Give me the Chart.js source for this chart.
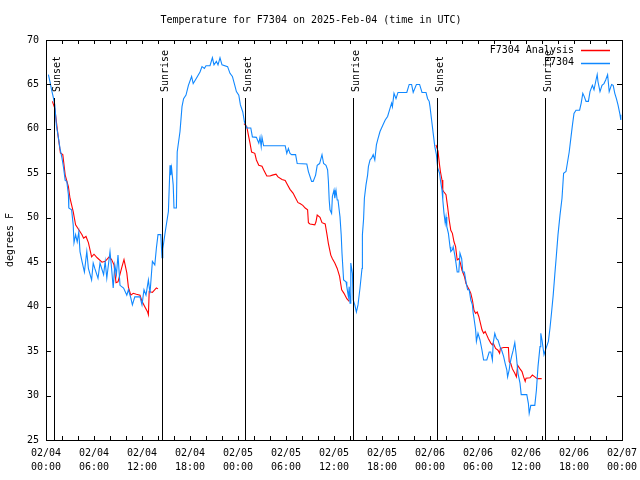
<!DOCTYPE html>
<html><head><meta charset="utf-8">
<script src="https://cdn.jsdelivr.net/npm/chart.js@4.4.1/dist/chart.umd.min.js"></script>
<style>html,body{margin:0;padding:0;background:#fff}#wrap{width:640px;height:480px}</style>
</head><body><div id="wrap"><canvas id="c" width="640" height="480"></canvas></div>
<script>
const titleText = 'Temperature for F7304 on 2025-Feb-04 (time in UTC)';
const yAxisTitle = 'degrees F';
const seriesNames = ['F7304 Analysis', 'F7304'];
const tickDates = ['02/04','02/04','02/04','02/04','02/05','02/05','02/05','02/05','02/06','02/06','02/06','02/06','02/07'];
const tickTimes = ['00:00','06:00','12:00','18:00','00:00','06:00','12:00','18:00','00:00','06:00','12:00','18:00','00:00'];
const sunEventHours = [1.0, 14.5, 24.9, 38.4, 48.9, 62.4];
const sunEventLabels = ['Sunset','Sunrise','Sunset','Sunrise','Sunset','Sunrise'];

// station observations: [hours since 02/04 00:00 UTC, degrees F]
const stationReadings = [
[0.3,66.1],[0.5,65.3],[0.7,64.4],[0.9,63.6],[1.1,62.7],[1.3,60.4],[1.5,59.3],[1.75,57.8],[2.0,56.7],[2.2,55.6],
[2.4,54.2],[2.6,54.1],[2.8,52.6],[2.85,51.1],[3.2,50.9],[3.4,49.2],[3.5,47.2],[3.7,48.1],[3.9,47.3],[4.1,48.4],
[4.25,46.2],[4.5,45.1],[4.8,43.9],[5.1,46.2],[5.3,44.3],[5.7,43.0],[5.9,44.9],[6.1,44.3],[6.5,43.2],[6.75,44.9],
[7.2,43.6],[7.4,45.1],[7.6,43.2],[8.0,46.2],[8.2,44.3],[8.4,42.1],[8.6,44.7],[8.8,43.6],[9.0,45.8],[9.25,42.4],
[9.7,42.1],[10.1,41.3],[10.3,41.9],[10.6,41.0],[10.8,40.2],[11.1,41.1],[11.75,41.1],[12.0,40.2],[12.25,41.9],[12.5,41.3],
[12.8,43.0],[13.0,41.5],[13.3,45.1],[13.6,44.7],[13.8,46.6],[14.0,48.1],[14.35,48.1],[14.5,45.5],[14.6,46.5],[14.9,48.4],
[15.3,50.7],[15.5,55.9],[15.6,54.8],[15.7,55.6],[15.9,53.7],[16.0,51.1],[16.3,51.1],[16.4,57.4],[16.75,59.7],[17.0,62.5],
[17.2,63.4],[17.5,63.8],[17.8,64.9],[18.2,65.9],[18.4,65.1],[18.8,65.7],[19.25,66.4],[19.5,67.0],[19.8,66.8],[20.0,67.1],
[20.5,67.1],[20.8,68.0],[21.0,67.2],[21.3,67.6],[21.5,67.2],[21.75,68.0],[22.0,67.2],[22.7,67.0],[23.0,66.25],[23.3,65.9],
[23.6,64.9],[23.8,64.2],[24.1,63.8],[24.3,62.7],[24.6,61.9],[24.8,60.8],[25.1,60.1],[25.6,60.1],[25.8,59.1],[26.3,59.05],
[26.6,58.4],[26.75,59.05],[26.9,58.0],[27.0,59.05],[27.2,58.1],[29.9,58.1],[30.1,57.25],[30.3,57.8],[30.5,57.25],[30.7,57.1],
[31.2,57.1],[31.4,56.1],[32.6,56.05],[32.8,55.2],[33.2,54.1],[33.4,54.1],[33.7,54.8],[33.9,55.9],[34.2,56.1],[34.5,57.1],
[34.7,56.1],[35.0,55.9],[35.2,55.4],[35.3,54.1],[35.4,52.0],[35.5,50.9],[35.7,50.5],[35.8,52.4],[36.0,53.1],[36.1,52.2],
[36.25,53.1],[36.4,52.0],[36.5,52.0],[36.75,50.1],[36.9,48.1],[37.0,46.0],[37.2,43.0],[37.5,42.8],[37.6,42.25],[37.8,41.1],
[37.9,42.25],[38.0,40.4],[38.1,44.9],[38.3,43.75],[38.4,40.75],[38.6,40.2],[38.8,39.4],[39.0,40.2],[39.25,42.1],[39.5,44.3],
[39.55,48.1],[39.7,49.9],[39.8,52.2],[40.0,53.7],[40.2,54.8],[40.3,55.75],[40.5,56.5],[40.7,56.7],[40.9,57.1],[41.1,56.5],
[41.3,58.2],[41.5,58.9],[41.75,59.7],[42.1,60.4],[42.4,61.0],[42.7,61.4],[43.0,62.3],[43.2,62.9],[43.3,62.5],[43.5,64.0],
[43.75,63.4],[44.0,64.1],[45.1,64.1],[45.4,65.0],[45.7,65.0],[45.9,64.1],[46.3,65.0],[46.7,65.0],[47.0,64.1],[47.5,64.1],
[47.7,63.4],[47.9,63.1],[48.0,62.5],[48.2,61.0],[48.4,59.5],[48.6,58.0],[48.8,57.1],[48.96,55.6],[49.2,55.0],[49.3,54.25],
[49.5,53.1],[49.6,52.0],[49.75,50.5],[49.9,49.4],[50.0,50.1],[50.1,49.0],[50.3,48.25],[50.4,47.5],[50.5,46.75],[50.6,46.2],
[50.8,46.4],[50.9,46.75],[51.1,45.8],[51.25,44.9],[51.4,43.9],[51.6,43.9],[51.75,46.0],[51.96,45.4],[52.1,43.9],[52.3,43.9],
[52.5,42.8],[52.7,41.9],[52.9,41.9],[53.1,40.75],[53.3,40.2],[53.4,39.25],[53.5,38.7],[53.7,37.4],[53.8,36.1],[54.0,37.0],
[54.25,36.25],[54.5,35.1],[54.7,34.0],[55.1,34.0],[55.4,34.9],[55.6,34.9],[55.8,34.0],[55.9,35.9],[56.1,37.0],[56.3,36.4],
[56.5,36.25],[56.75,35.5],[56.96,35.1],[57.2,34.4],[57.4,33.6],[57.6,32.9],[57.7,32.1],[57.9,32.9],[58.0,33.6],[58.2,34.4],
[58.4,35.1],[58.6,35.95],[58.8,34.4],[59.0,32.5],[59.25,31.4],[59.4,30.1],[60.1,30.1],[60.3,29.1],[60.4,28.0],[60.6,28.9],
[61.1,28.9],[61.3,30.6],[61.5,33.25],[61.75,35.5],[61.85,37.0],[62.0,36.25],[62.25,34.6],[62.5,35.3],[62.8,36.1],[63.0,37.6],
[63.2,39.4],[63.4,41.3],[63.6,43.6],[63.8,45.8],[64.0,48.1],[64.25,50.3],[64.5,52.2],[64.7,55.0],[65.0,55.2],[65.2,56.3],
[65.4,57.4],[65.6,58.9],[65.8,60.4],[66.0,61.75],[66.25,62.1],[66.7,62.1],[66.9,62.9],[67.1,64.0],[67.3,63.6],[67.5,63.1],
[67.8,63.1],[68.0,64.2],[68.3,64.9],[68.5,64.4],[68.75,65.5],[68.9,66.1],[69.0,65.3],[69.25,64.2],[69.5,64.9],[69.75,65.1],
[69.96,65.5],[70.2,66.1],[70.4,64.2],[70.7,65.0],[70.9,64.9],[71.1,64.0],[71.3,63.4],[71.5,62.7],[71.75,61.6],[71.85,61.0]
];

// analysis values (night-time only; null = gap)
const analysisReadings = [
[0.8,63.1],[1.1,62.3],[1.5,59.3],[1.8,57.3],[2.1,57.1],[2.4,54.8],[2.8,53.5],[3.0,52.2],[3.4,50.7],[3.7,49.2],
[4.0,48.8],[4.5,48.1],[4.7,47.7],[5.0,47.9],[5.3,47.2],[5.7,45.6],[6.0,45.9],[6.4,45.5],[7.0,45.0],[7.4,45.1],
[7.9,45.6],[8.2,45.3],[8.5,44.7],[8.75,42.7],[9.0,42.8],[9.5,44.5],[9.75,45.3],[10.1,43.8],[10.3,42.2],[10.6,41.3],
[10.9,41.5],[11.3,41.4],[11.75,41.3],[12.0,40.6],[12.4,39.9],[12.7,39.4],[12.8,39.1],[12.9,41.7],[13.3,41.6],[13.8,42.1],
[14.0,42.0],[14.1,null],
[24.75,60.6],[25.1,60.25],[25.3,59.3],[25.5,58.4],[25.7,57.4],[26.1,57.25],[26.3,56.5],[26.6,55.9],[27.0,55.8],[27.2,55.4],
[27.6,54.7],[28.0,54.7],[28.3,54.8],[28.75,54.9],[29.0,54.6],[29.5,54.3],[29.9,54.2],[30.2,53.7],[30.5,53.2],[30.9,52.75],
[31.1,52.4],[31.5,51.7],[31.75,51.6],[32.1,51.4],[32.4,51.1],[32.7,50.9],[32.8,49.45],[33.0,49.3],[33.6,49.2],[33.75,49.55],
[33.9,50.3],[34.25,50.05],[34.5,49.45],[34.9,49.3],[35.1,48.25],[35.3,47.1],[35.6,45.8],[35.8,45.4],[36.1,44.9],[36.4,44.3],
[36.7,43.4],[36.8,42.8],[36.96,41.9],[37.25,41.5],[37.6,40.9],[37.9,40.6],[38.0,null],
[48.75,58.2],[49.0,57.5],[49.2,55.9],[49.3,55.2],[49.5,54.25],[49.6,53.1],[49.75,52.9],[50.0,52.6],[50.2,51.25],[50.4,49.75],
[50.6,48.6],[50.8,48.25],[51.0,47.3],[51.2,46.75],[51.4,45.25],[51.6,45.4],[51.8,44.9],[52.0,44.1],[52.3,43.4],[52.5,42.6],
[52.7,42.25],[52.9,41.9],[53.1,41.5],[53.3,40.75],[53.5,39.6],[53.7,39.25],[53.9,39.4],[54.1,38.9],[54.5,37.4],[54.7,37.0],
[54.9,37.2],[55.1,36.8],[55.3,36.4],[55.6,35.9],[55.8,35.7],[55.9,35.9],[56.2,35.3],[56.5,35.1],[56.7,34.75],[56.8,35.3],
[57.2,35.4],[57.8,35.4],[57.9,33.8],[58.1,33.6],[58.3,33.0],[58.6,32.5],[58.8,32.1],[58.96,33.4],[59.25,33.0],[59.5,32.7],
[59.7,32.1],[59.9,31.6],[60.0,31.95],[60.5,32.0],[60.8,32.3],[61.1,32.1],[61.4,31.9],[61.96,31.9]
];

const FONT = '"DejaVu Sans Mono", "Liberation Mono", monospace';
const RED = 'rgb(255,0,0)';
const BLUE = 'rgb(16,136,255)';

const toXY = arr => arr.map(p => ({x: p[0], y: p[1]}));

const framePlugin = {
  id: 'frame',
  afterDatasetsDraw(chart) {
    const {ctx, chartArea: a, scales: {x, y}} = chart;
    ctx.save();
    // sunrise / sunset markers
    ctx.strokeStyle = '#000'; ctx.lineWidth = 1;
    ctx.fillStyle = '#000';
    ctx.font = '10px ' + FONT;
    sunEventHours.forEach((h, i) => {
      const px = Math.round(x.getPixelForValue(h)) + 0.5;
      ctx.beginPath(); ctx.moveTo(px, a.bottom); ctx.lineTo(px, a.top + 58); ctx.stroke();
      ctx.save();
      ctx.translate(px + 2.5, a.top + 52);
      ctx.rotate(-Math.PI / 2);
      ctx.textAlign = 'left'; ctx.textBaseline = 'middle';
      ctx.fillText(sunEventLabels[i], 0, 0);
      ctx.restore();
    });
    // border
    ctx.strokeRect(a.left + 0.5, a.top + 0.5, a.right - a.left, a.bottom - a.top);
    // inward ticks
    ctx.beginPath();
    for (let h = x.min; h <= x.max; h += 2) {
      const px = Math.round(x.getPixelForValue(h)) + 0.5;
      ctx.moveTo(px, a.bottom); ctx.lineTo(px, a.bottom - 4);
      ctx.moveTo(px, a.top); ctx.lineTo(px, a.top + 4);
    }
    for (let v = y.min; v <= y.max; v += 5) {
      const py = Math.round(y.getPixelForValue(v)) + 0.5;
      ctx.moveTo(a.left, py); ctx.lineTo(a.left + 5, py);
      ctx.moveTo(a.right, py); ctx.lineTo(a.right - 5, py);
    }
    ctx.stroke();
    // legend (gnuplot style: text then sample line)
    const rows = [[seriesNames[0], RED], [seriesNames[1], BLUE]];
    rows.forEach((r, i) => {
      const ty = a.top + 10 + i * 12.5;
      ctx.fillStyle = '#000';
      ctx.textAlign = 'right'; ctx.textBaseline = 'middle';
      ctx.fillText(r[0], a.right - 48, ty);
      ctx.strokeStyle = r[1]; ctx.lineWidth = 1.5;
      ctx.beginPath(); ctx.moveTo(a.right - 41, Math.round(ty) + 0.5); ctx.lineTo(a.right - 12, Math.round(ty) + 0.5); ctx.stroke();
    });
    ctx.restore();
  }
};

new Chart(document.getElementById('c'), {
  type: 'line',
  data: {
    datasets: [
      { label: seriesNames[1], data: toXY(stationReadings), borderColor: BLUE, borderWidth: 1.1,
        pointRadius: 0, tension: 0, fill: false, order: 0 },
      { label: seriesNames[0], data: toXY(analysisReadings), borderColor: RED, borderWidth: 1.1,
        pointRadius: 0, tension: 0, fill: false, spanGaps: false, order: 1 }
    ]
  },
  options: {
    responsive: false, animation: false, devicePixelRatio: 1,
    layout: { padding: { top: 0, right: 18, left: 0, bottom: 0 } },
    plugins: {
      legend: { display: false },
      tooltip: { enabled: false },
      title: { display: true, text: titleText, color: '#000',
               font: { family: FONT, size: 10, weight: 'normal', lineHeight: 1.2 },
               padding: { top: 14, bottom: 14 } }
    },
    scales: {
      x: {
        type: 'linear', min: 0, max: 72,
        grid: { display: false, drawTicks: false }, border: { display: false },
        afterFit(s) { s.height = 40; s.paddingLeft = 0; s.paddingRight = 0; },
        ticks: {
          stepSize: 6, color: '#000', padding: 6, maxRotation: 0, autoSkip: false,
          font: { family: FONT, size: 10, lineHeight: 1.4 },
          callback: (v) => { const i = Math.round(v / 6); return [tickDates[i], tickTimes[i]]; }
        }
      },
      y: {
        min: 25, max: 70,
        grid: { display: false, drawTicks: false }, border: { display: false },
        afterFit(s) { s.width = 46; s.paddingTop = 0; s.paddingBottom = 0; },
        title: { display: true, text: yAxisTitle, color: '#000', padding: { top: 4, bottom: 0 },
                 font: { family: FONT, size: 10, lineHeight: 1.2 } },
        ticks: { stepSize: 5, color: '#000', padding: 7, font: { family: FONT, size: 10 } }
      }
    }
  },
  plugins: [framePlugin]
});
</script>
</body></html>
